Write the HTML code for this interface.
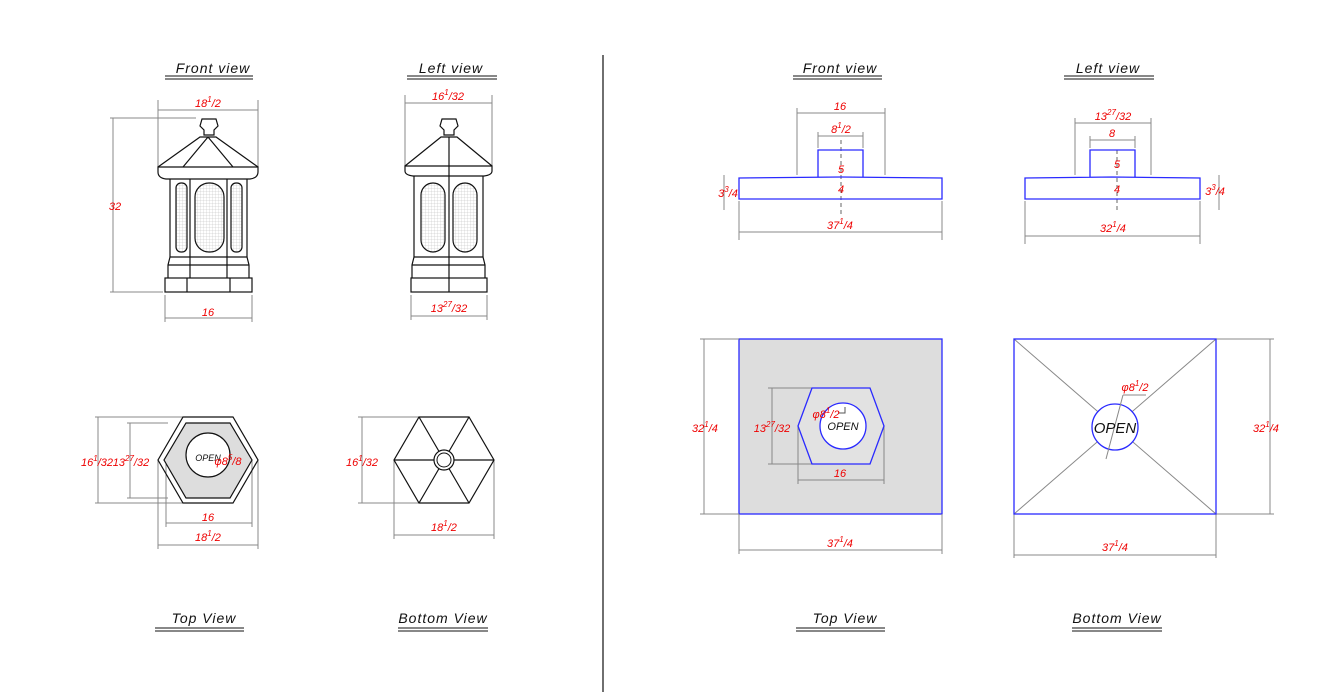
<!DOCTYPE html>
<html><head><meta charset="utf-8"><style>
html,body{margin:0;padding:0;background:#fff;width:1331px;height:700px;overflow:hidden}
svg{display:block}
text{font-family:"Liberation Sans",sans-serif;font-style:italic}
.r{fill:#e00;font-size:11px;text-anchor:middle}
.s{font-size:8px}
.t{fill:#111;font-size:14px;text-anchor:middle;letter-spacing:1px}
.d{stroke:#888;stroke-width:1;fill:none}
.k{stroke:#111;stroke-width:1.2;fill:none}
.b{stroke:#2a2aff;stroke-width:1.3;fill:none}
</style></head><body>
<svg width="1331" height="700" viewBox="0 0 1331 700">
<defs><pattern id="g" width="3" height="3" patternUnits="userSpaceOnUse"><path d="M3 0V3M0 3H3" stroke="#bbb" stroke-width="0.5"/></pattern></defs>
<g>
<text class="t" x="213" y="73">Front view</text><path d="M165 76H253M165 79H253" stroke="#111"/>
<text class="t" x="451" y="73">Left view</text><path d="M407 76H497M407 79H497" stroke="#111"/>
<text class="t" x="204" y="623">Top View</text><path d="M155 628H244M155 631H244" stroke="#111"/>
<text class="t" x="443" y="623">Bottom View</text><path d="M398 628H488M398 631H488" stroke="#111"/>
<text class="t" x="840" y="73">Front view</text><path d="M793 76H882M793 79H882" stroke="#111"/>
<text class="t" x="1108" y="73">Left view</text><path d="M1064 76H1154M1064 79H1154" stroke="#111"/>
<text class="t" x="845" y="623">Top View</text><path d="M796 628H885M796 631H885" stroke="#111"/>
<text class="t" x="1117" y="623">Bottom View</text><path d="M1072 628H1162M1072 631H1162" stroke="#111"/>
</g>
<line x1="603" y1="55" x2="603" y2="692" stroke="#222" stroke-width="1.3"/>

<g class="d"><path d="M158 100V170M258 100V170M158 110H258M110 118H196M110 292H163M113 118V292M165 295V322M252 295V322M165 318H252"/></g>
<text class="r" x="208" y="107">18<tspan class="s" dy="-5">1</tspan><tspan dy="5">/2</tspan></text>
<text class="r" x="115" y="210">32</text>
<text class="r" x="208" y="316">16</text>
<g class="k">
<path d="M202 119H216L218 126L214 130V135H204V130L200 126Z"/>
<path d="M158 167L200 137H216L258 167M208 137L183 167M208 137L233 167"/>
<path d="M158 167H258V172Q258 178 250 179H166Q158 178 158 172Z"/>
<path d="M170 179V257M247 179V257M190 179V257M227 179V257"/>
<rect x="176" y="183" width="11" height="69" rx="5" style="fill:url(#g)"/>
<rect x="195" y="183" width="29" height="69" rx="14" style="fill:url(#g)"/>
<rect x="231" y="183" width="11" height="69" rx="5" style="fill:url(#g)"/>
<path d="M170 257H247L249 265V278M168 278V265L170 257M168 265H249M190 257V278M227 257V278"/>
<rect x="165" y="278" width="87" height="14"/><path d="M187 278V292M230 278V292"/>
</g>
<g class="d"><path d="M405 95V170M492 95V170M405 103H492M411 295V320M487 295V320M411 316H487"/></g>
<text class="r" x="448" y="100">16<tspan class="s" dy="-5">1</tspan><tspan dy="5">/32</tspan></text>
<text class="r" x="449" y="312">13<tspan class="s" dy="-5">27</tspan><tspan dy="5">/32</tspan></text>
<g class="k">
<path d="M442 119H456L458 126L454 130V135H444V130L440 126Z"/>
<path d="M405 166L441 137H457L492 166M449 137V292"/>
<path d="M405 166H492V171Q492 175 484 176H413Q405 175 405 171Z"/>
<path d="M414 176V257M483 176V257"/>
<rect x="421" y="183" width="24" height="69" rx="12" style="fill:url(#g)"/>
<rect x="453" y="183" width="24" height="69" rx="12" style="fill:url(#g)"/>
<path d="M414 257H483L485 265V278M412 278V265L414 257M412 265H485"/>
<rect x="411" y="278" width="76" height="14"/>
</g>

<g class="d"><path d="M95 417H185M95 503H185M98 417V503M127 423H168M127 498H168M130 423V498M166 460V527M252 460V527M166 523H252M158 460V549M258 460V549M158 545H258M190 470L215 455"/></g>
<path d="M183 417H233L258 460L233 503H183L158 460Z" class="k"/>
<path d="M186 423H230L252 460L230 498H186L164 460Z" class="k" style="fill:#ddd"/>
<circle cx="208" cy="455" r="22" fill="#fff" stroke="#111" stroke-width="1.2"/>
<text x="208" y="461" style="font-size:9px;text-anchor:middle;fill:#111">OPEN</text>
<text class="r" x="228" y="465">φ8<tspan class="s" dy="-5">5</tspan><tspan dy="5">/8</tspan></text>
<text class="r" x="97" y="466">16<tspan class="s" dy="-5">1</tspan><tspan dy="5">/32</tspan></text>
<text class="r" x="131" y="466">13<tspan class="s" dy="-5">27</tspan><tspan dy="5">/32</tspan></text>
<text class="r" x="208" y="521">16</text>
<text class="r" x="208" y="541">18<tspan class="s" dy="-5">1</tspan><tspan dy="5">/2</tspan></text>
<g class="d"><path d="M358 417H420M358 503H420M362 417V503M394 460V539M494 460V539M394 535H494"/></g>
<g class="k"><path d="M419 417H469L494 460L469 503H419L394 460ZM419 417L469 503M469 417L419 503M394 460H494"/></g>
<circle cx="444" cy="460" r="10" fill="#fff" stroke="#111" stroke-width="1.2"/>
<circle cx="444" cy="460" r="7" fill="#fff" stroke="#111" stroke-width="1"/>
<text class="r" x="362" y="466">16<tspan class="s" dy="-5">1</tspan><tspan dy="5">/32</tspan></text>
<text class="r" x="444" y="531">18<tspan class="s" dy="-5">1</tspan><tspan dy="5">/2</tspan></text>

<g class="d"><path d="M797 108V175M885 108V175M797 113H885M818 132V148M863 132V148M818 136H863M724 175V210M739 201V240M942 201V240M739 232H942"/></g>
<path d="M841 140V215" stroke="#666" stroke-dasharray="4 3"/>
<path class="b" d="M739 178L841 177L942 178V199H739ZM818 177V150H863V177"/>
<text class="r" x="840" y="110">16</text>
<text class="r" x="841" y="133">8<tspan class="s" dy="-5">1</tspan><tspan dy="5">/2</tspan></text>
<text class="r" x="841" y="173">5</text><text class="r" x="841" y="193">4</text>
<text class="r" x="728" y="197">3<tspan class="s" dy="-5">3</tspan><tspan dy="5">/4</tspan></text>
<text class="r" x="840" y="229">37<tspan class="s" dy="-5">1</tspan><tspan dy="5">/4</tspan></text>
<g class="d"><path d="M1075 118V175M1151 118V175M1075 123H1151M1090 136V148M1135 136V148M1090 140H1135M1219 175V210M1025 201V244M1200 201V244M1025 236H1200"/></g>
<path d="M1117 150V210" stroke="#666" stroke-dasharray="4 3"/>
<path class="b" d="M1025 178L1112 177L1200 178V199H1025ZM1090 177V150H1135V177"/>
<text class="r" x="1113" y="120">13<tspan class="s" dy="-5">27</tspan><tspan dy="5">/32</tspan></text>
<text class="r" x="1112" y="137">8</text>
<text class="r" x="1117" y="168">5</text><text class="r" x="1117" y="193">4</text>
<text class="r" x="1215" y="195">3<tspan class="s" dy="-5">3</tspan><tspan dy="5">/4</tspan></text>
<text class="r" x="1113" y="232">32<tspan class="s" dy="-5">1</tspan><tspan dy="5">/4</tspan></text>

<rect x="739" y="339" width="203" height="175" class="b" style="fill:#ddd"/>
<g class="d"><path d="M700 339H739M700 514H739M704 339V514M768 388H812M768 464H812M772 388V464M798 426V484M884 426V484M798 480H884M739 514V554M942 514V554M739 550H942"/></g>
<path class="b" d="M812 388H870L884 426L870 464H812L798 426Z" style="fill:#e2e2e2"/>
<circle cx="843" cy="426" r="23" fill="#fff" stroke="#2a2aff" stroke-width="1.3"/>
<text x="843" y="430" style="font-size:11px;text-anchor:middle;fill:#111">OPEN</text>
<path d="M838 413H845V407" stroke="#555" fill="none"/>
<text class="r" x="826" y="418">φ8<tspan class="s" dy="-5">1</tspan><tspan dy="5">/2</tspan></text>
<text class="r" x="705" y="432">32<tspan class="s" dy="-5">1</tspan><tspan dy="5">/4</tspan></text>
<text class="r" x="772" y="432">13<tspan class="s" dy="-5">27</tspan><tspan dy="5">/32</tspan></text>
<text class="r" x="840" y="477">16</text>
<text class="r" x="840" y="547">37<tspan class="s" dy="-5">1</tspan><tspan dy="5">/4</tspan></text>
<g class="d"><path d="M1014 339L1216 514M1216 339L1014 514M1216 339H1274M1216 514H1274M1270 339V514M1014 514V558M1216 514V558M1014 555H1216M1123 395H1146"/></g>
<rect x="1014" y="339" width="202" height="175" class="b"/>
<circle cx="1115" cy="427" r="23" fill="#fff" stroke="#2a2aff" stroke-width="1.3"/>
<path d="M1106 459L1123 395" stroke="#888"/>
<text x="1115" y="433" style="font-size:15px;text-anchor:middle;fill:#111">OPEN</text>
<text class="r" x="1135" y="391">φ8<tspan class="s" dy="-5">1</tspan><tspan dy="5">/2</tspan></text>
<text class="r" x="1266" y="432">32<tspan class="s" dy="-5">1</tspan><tspan dy="5">/4</tspan></text>
<text class="r" x="1115" y="551">37<tspan class="s" dy="-5">1</tspan><tspan dy="5">/4</tspan></text>
</svg>
</body></html>
